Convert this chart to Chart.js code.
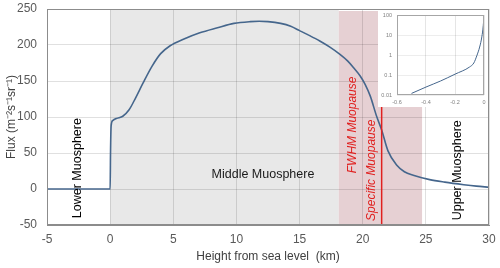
<!DOCTYPE html>
<html>
<head>
<meta charset="utf-8">
<script src="https://cdn.jsdelivr.net/npm/chart.js@4.4.1/dist/chart.umd.min.js"></script>
<style>
  html, body { margin: 0; padding: 0; background: #ffffff; }
  #wrap { position: relative; width: 500px; height: 268px; }
  #main { position: absolute; left: 0; top: 0; }
  #insetBox { position: absolute; left: 378px; top: 10px; width: 110px; height: 97px; background: #ffffff; }
</style>
</head>
<body>
<div id="wrap">
  <canvas id="main" width="500" height="268"></canvas>
  <div id="insetBox"><canvas id="inset" width="110" height="97"></canvas></div>
</div>
<script>
// ---- Main series: height (km) vs muon flux ----
const heights = [-5, 0, 0.03, 0.08, 0.2, 0.5, 1.0, 1.5, 2.0, 2.6, 3.3, 4.0, 4.75, 5.8, 7.1, 8.5, 9.8, 11.1, 11.8, 12.5, 13.5, 14.3, 15.0, 15.8, 16.6, 17.4, 18.2, 18.8, 19.3, 19.8, 20.2, 20.6, 21.1, 21.5, 22.0, 22.7, 23.3, 24.0, 25.3, 26.5, 28.0, 29.0, 30.0];
const flux    = [0, 0, 50, 88, 95, 98, 101, 110, 126, 147, 170, 188, 199, 208, 217, 224, 230, 232.5, 233, 232.5, 230, 226, 220, 213, 205.5, 197, 187, 178, 168, 157, 145, 129, 101, 82, 53, 33, 24, 19, 13, 9.5, 6, 4, 2.5];

// ---- Inset series (log flux vs offset) ----
const insetX = [-0.5, -0.4, -0.3, -0.2, -0.1, -0.07, -0.05, -0.03, -0.015, -0.005, 0];
const insetY = [0.012, 0.025, 0.05, 0.11, 0.25, 0.4, 0.9, 2.5, 8, 30, 100];
const insetYTicks = [0.01, 0.1, 1, 10, 100];

// ---- Regions (km) ----
const middleRegion = [0, 18.1];
const fwhmRegion = [18.1, 24.7];
const specificMuopause = 21.5;

// ---- Text labels ----
const regionLabels = ['Lower Muosphere', 'Middle Muosphere', 'Upper Muosphere'];
const muopauseLabels = ['FWHM Muopause', 'Specific Muopause'];

const FONT = '"Liberation Sans", Arial, sans-serif';
Chart.defaults.font.family = FONT;

const shadePlugin = {
  id: 'shade',
  beforeDraw(chart) {
    const { ctx, chartArea: a, scales: { x } } = chart;
    ctx.save();
    ctx.fillStyle = '#e8e8e8';
    let x0 = x.getPixelForValue(middleRegion[0]), x1 = x.getPixelForValue(middleRegion[1]);
    ctx.fillRect(x0, a.top, x1 - x0, a.bottom - a.top);
    ctx.fillStyle = '#e6d0d3';
    x0 = x.getPixelForValue(fwhmRegion[0]); x1 = x.getPixelForValue(fwhmRegion[1]);
    ctx.fillRect(x0, a.top + 2, x1 - x0, a.bottom - a.top - 3);
    ctx.restore();
  },
  afterDatasetsDraw(chart) {
    const { ctx, chartArea: a, scales: { x, y } } = chart;
    ctx.save();
    // specific muopause line
    const xs = x.getPixelForValue(specificMuopause);
    ctx.strokeStyle = '#e0201f';
    ctx.lineWidth = 1.5;
    ctx.beginPath(); ctx.moveTo(xs, a.top); ctx.lineTo(xs, a.bottom); ctx.stroke();

    const vText = (txt, xv, yv, color, font) => {
      ctx.save();
      ctx.translate(x.getPixelForValue(xv), y.getPixelForValue(yv));
      ctx.rotate(-Math.PI / 2);
      ctx.fillStyle = color; ctx.font = font;
      ctx.textAlign = 'center'; ctx.textBaseline = 'middle';
      ctx.fillText(txt, 0, 0);
      ctx.restore();
    };
    vText(regionLabels[0], -2.6, 29, '#000000', '12.5px ' + FONT);
    vText(regionLabels[2], 27.5, 26, '#000000', '12.5px ' + FONT);
    vText(muopauseLabels[0], 19.24, 89, '#e0201f', 'italic 12px ' + FONT);
    vText(muopauseLabels[1], 20.72, 26, '#e0201f', 'italic 12px ' + FONT);

    ctx.fillStyle = '#1a1a1a'; ctx.font = '12.5px ' + FONT;
    ctx.textAlign = 'center'; ctx.textBaseline = 'middle';
    ctx.fillText(regionLabels[1], x.getPixelForValue(12.1), y.getPixelForValue(20.6));

    // frame
    ctx.strokeStyle = '#8c8c8c'; ctx.lineWidth = 1;
    ctx.strokeRect(a.left + 0.5, a.top + 0.5, a.right - a.left - 1, a.bottom - a.top - 1);
    ctx.restore();
  }
};

new Chart(document.getElementById('main'), {
  type: 'line',
  data: {
    datasets: [{
      data: heights.map((h, i) => ({ x: h, y: flux[i] })),
      borderColor: '#45668c',
      borderWidth: 1.6,
      pointRadius: 0,
      cubicInterpolationMode: 'monotone',
      fill: false
    }]
  },
  options: {
    responsive: false,
    animation: false,
    layout: { padding: { top: 9, right: 11, left: 0, bottom: 0 } },
    plugins: { legend: { display: false }, tooltip: { enabled: false } },
    scales: {
      x: {
        type: 'linear', min: -5, max: 30,
        ticks: { stepSize: 5, padding: 7, color: '#595959', font: { size: 12 } },
        grid: { color: 'rgba(0,0,0,0.12)', drawTicks: false },
        border: { color: '#8c8c8c' },
        title: { display: true, text: 'Height from sea level  (km)', color: '#404040', font: { size: 12 }, padding: { top: 0, bottom: 4 } },
        afterFit(s) { s.height = 43; s.paddingLeft = 0; s.paddingRight = 0; }
      },
      y: {
        type: 'linear', min: -50, max: 250,
        ticks: { stepSize: 50, padding: 10, color: '#595959', font: { size: 12 } },
        grid: { color: 'rgba(0,0,0,0.12)', drawTicks: false },
        border: { color: '#8c8c8c' },
        title: { display: true, text: 'Flux (m⁻²s⁻¹sr⁻¹)', color: '#404040', font: { size: 12 }, padding: { top: 4, bottom: 0 } },
        afterFit(s) { s.width = 47; s.paddingTop = 0; s.paddingBottom = 0; }
      }
    }
  },
  plugins: [shadePlugin]
});

const insetFrame = {
  id: 'insetFrame',
  afterDraw(chart) {
    const { ctx, chartArea: a } = chart;
    ctx.save();
    ctx.strokeStyle = '#a6a6a6'; ctx.lineWidth = 1;
    ctx.strokeRect(a.left + 0.5, a.top + 0.5, a.right - a.left - 1, a.bottom - a.top - 1);
    ctx.restore();
  }
};

new Chart(document.getElementById('inset'), {
  type: 'line',
  data: {
    datasets: [{
      data: insetX.map((v, i) => ({ x: v, y: insetY[i] })),
      borderColor: '#45668c',
      borderWidth: 1,
      pointRadius: 0,
      cubicInterpolationMode: 'monotone',
      fill: false
    }]
  },
  options: {
    responsive: false,
    animation: false,
    layout: { padding: { top: 5, right: 4, left: 0, bottom: 0 } },
    plugins: { legend: { display: false }, tooltip: { enabled: false } },
    scales: {
      x: {
        type: 'linear', min: -0.6, max: 0,
        ticks: { stepSize: 0.2, padding: 4, color: '#7f7f7f', font: { size: 5.5 },
          callback: v => (Math.abs(v) < 1e-9 ? '0' : v.toFixed(1)) },
        grid: { color: 'rgba(0,0,0,0.10)', drawTicks: false },
        border: { display: false },
        afterFit(s) { s.height = 12; s.paddingLeft = 0; s.paddingRight = 0; }
      },
      y: {
        type: 'logarithmic', min: 0.01, max: 100,
        afterBuildTicks(s) { s.ticks = insetYTicks.map(v => ({ value: v })); },
        ticks: { padding: 5, color: '#7f7f7f', font: { size: 5.5 },
          callback: v => String(v) },
        grid: { color: 'rgba(0,0,0,0.07)', drawTicks: false },
        border: { display: false },
        afterFit(s) { s.width = 19; s.paddingTop = 0; s.paddingBottom = 0; }
      }
    }
  },
  plugins: [insetFrame]
});
</script>
</body>
</html>
